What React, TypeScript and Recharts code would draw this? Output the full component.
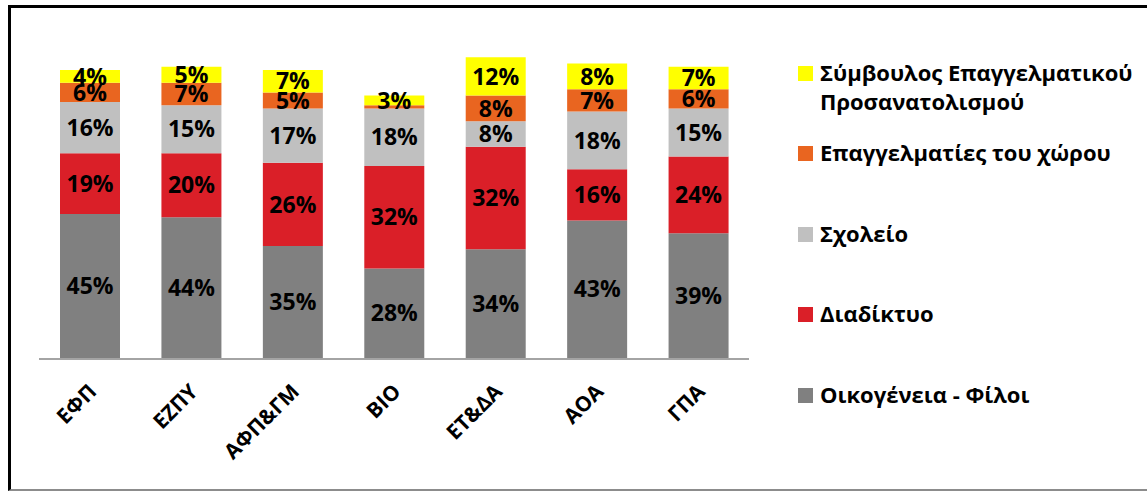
import { BarChart, Bar, XAxis, YAxis, LabelList } from "recharts";

const categories = ["ΕΦΠ", "ΕΖΠΥ", "ΑΦΠ&ΓΜ", "ΒΙΟ", "ΕΤ&ΔΑ", "ΑΟΑ", "ΓΠΑ"];
const family = [45, 44, 35, 28, 34, 43, 39];
const internet = [19, 20, 26, 32, 32, 16, 24];
const school = [16, 15, 17, 18, 8, 18, 15];
const professionals = [6, 7, 5, 1, 8, 7, 6];
const counselor = [4, 5, 7, 3, 12, 8, 7];
const boundaryTicks = [0, 1, 2, 3, 4, 5, 6, 7];

// bottom to top stacking order
const SERIES = [
  { key: "family", name: "Οικογένεια - Φίλοι", color: "#808080", values: family },
  { key: "internet", name: "Διαδίκτυο", color: "#da1f28", values: internet },
  { key: "school", name: "Σχολείο", color: "#c0c0c0", values: school },
  { key: "professionals", name: "Επαγγελματίες του χώρου", color: "#e96520", values: professionals },
  { key: "counselor", name: "Σύμβουλος Επαγγελματικού\nΠροσανατολισμού", color: "#ffff00", values: counselor },
];

const data = categories.map((name, i) => {
  const row: Record<string, string | number> = { name };
  SERIES.forEach((s) => (row[s.key] = s.values[i]));
  return row;
});

const FONT = "'Open Sans', sans-serif";
const W = 1147;
const H = 491;

function CatTick({ x, y, payload }: any) {
  const tx = x + 8;
  const ty = y + 35;
  return (
    <text
      x={tx}
      y={ty}
      transform={`rotate(-45 ${tx} ${ty})`}
      textAnchor="end"
      fontSize={21}
      fontWeight={700}
      fontFamily={FONT}
      fill="#000"
    >
      {payload.value}
    </text>
  );
}

export default function App() {
  return (
    <div style={{ position: "absolute", left: 0, top: 0, width: W, height: H, overflow: "hidden", background: "#fff" }}>
      <div
        style={{
          position: "absolute",
          left: 8,
          top: 5,
          width: 1200,
          height: 486,
          boxSizing: "border-box",
          borderTop: "3px solid #000",
          borderLeft: "3px solid #000",
          borderBottom: "2px solid #8c8c8c",
        }}
      />
      <div style={{ position: "absolute", left: 0, top: 0 }}>
        <BarChart width={W} height={H} data={data} margin={{ top: 38, left: 39, right: 398, bottom: 34 }}>
          <YAxis hide type="number" domain={[0, 100]} />
          <XAxis
            dataKey="name"
            height={1}
            tickSize={0}
            tickMargin={0}
            axisLine={false}
            tickLine={false}
            interval={0}
            tick={<CatTick />}
          />
          <XAxis
            xAxisId="grid"
            type="number"
            domain={[0, 7]}
            ticks={boundaryTicks}
            allowDataOverflow
            height={98}
            tick={false}
            tickSize={7}
            axisLine={{ stroke: "#868686", strokeWidth: 1.5 }}
            tickLine={{ stroke: "#868686", strokeWidth: 1.5 }}
          />
          {SERIES.map((s) => (
            <Bar key={s.key} dataKey={s.key} stackId="a" fill={s.color} barSize={60} isAnimationActive={false}>
              <LabelList
                dataKey={s.key}
                position="center"
                fill="#000"
                fontSize={23}
                fontWeight={700}
                fontFamily={FONT}
                formatter={(v: any) => (Number(v) >= 2 ? `${v}%` : "")}
              />
            </Bar>
          ))}
        </BarChart>
      </div>
      {[...SERIES].reverse().map((s, i) => (
        <div
          key={s.key}
          style={{
            position: "absolute",
            left: 798,
            top: 58 + i * 80.4,
            display: "flex",
            alignItems: "flex-start",
            fontFamily: FONT,
            fontWeight: 700,
            fontSize: 22,
            lineHeight: "29px",
            color: "#000",
            whiteSpace: "pre-line",
          }}
        >
          <span style={{ width: 15, height: 15, background: s.color, marginTop: 8, marginRight: 7, flex: "none" }} />
          <span>{s.name}</span>
        </div>
      ))}
    </div>
  );
}
